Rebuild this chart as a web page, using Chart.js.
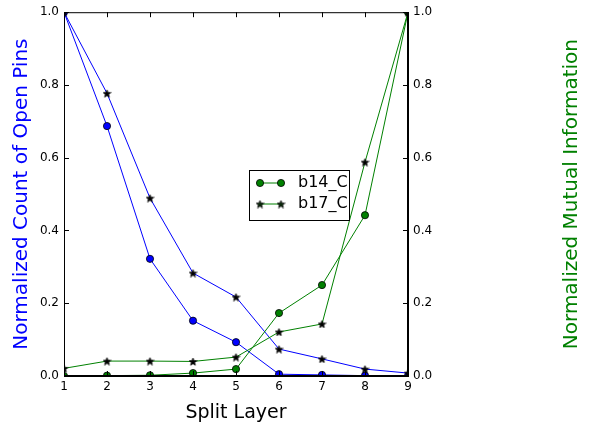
<!DOCTYPE html>
<html>
<head>
<meta charset="utf-8">
<script src="https://cdn.jsdelivr.net/npm/chart.js@4/dist/chart.umd.min.js"></script>
<style>
  html, body { margin: 0; padding: 0; background: #fff; }
  #wrap { width: 596px; height: 424px; }
</style>
</head>
<body>
<div id="wrap"><canvas id="chart" width="596" height="424"></canvas></div>
<script>
var layers = [1, 2, 3, 4, 5, 6, 7, 8, 9];
var pinsB14 = [1.0, 0.687, 0.322, 0.152, 0.093, 0.005, 0.003, 0.001, 0.0];
var pinsB17 = [1.0, 0.777, 0.489, 0.283, 0.217, 0.074, 0.047, 0.019, 0.008];
var miB14 = [0.0, 0.001, 0.002, 0.008, 0.019, 0.173, 0.25, 0.442, 1.0];
var miB17 = [0.021, 0.041, 0.041, 0.040, 0.052, 0.121, 0.143, 0.588, 1.0];
var yTicks = [0, 0.2, 0.4, 0.6, 0.8, 1.0];

var BLUE = '#0000ff';
var GREEN = '#008000';
var FONT = 'DejaVu Sans';

function makeStar (size, fill) {
  var c = document.createElement('canvas');
  c.width = size; c.height = size;
  var g = c.getContext('2d');
  var cx = size / 2, cy = size / 2 + 0.5, R = size / 2 - 0.5, r = R * 0.42;
  g.beginPath();
  for (var i = 0; i < 10; i++) {
    var rad = i % 2 === 0 ? R : r;
    var a = -Math.PI / 2 + i * Math.PI / 5;
    var px = cx + rad * Math.cos(a), py = cy + rad * Math.sin(a);
    if (i === 0) g.moveTo(px, py); else g.lineTo(px, py);
  }
  g.closePath();
  g.fillStyle = fill;
  g.fill();
  g.lineWidth = 0.8;
  g.strokeStyle = '#000';
  g.stroke();
  return c;
}
var starImg = makeStar(9, '#000');
var starGreen = makeStar(9, '#0a2a0a');

function pts (ys) {
  return layers.map(function (x, i) { return { x: x, y: ys[i] }; });
}

function series (label, ys, color, marker, axis, order) {
  return {
    label: label,
    data: pts(ys),
    yAxisID: axis,
    borderColor: color,
    backgroundColor: color,
    borderWidth: 1,
    pointStyle: marker === 'star' ? starImg : 'circle',
    pointRadius: 3.6,
    pointBorderColor: '#000',
    pointBorderWidth: 0.8,
    pointBackgroundColor: color,
    tension: 0,
    clip: 0,
    order: order
  };
}

// matplotlib style frame: inward ticks on all four sides + top border
var framePlugin = {
  id: 'frame',
  afterDraw: function (chart) {
    var ctx = chart.ctx, a = chart.chartArea;
    var sx = chart.scales.x, sy = chart.scales.y, sy2 = chart.scales.y2;
    ctx.save();
    ctx.strokeStyle = '#000';
    ctx.lineWidth = 1;
    ctx.strokeRect(a.left + 0.5, a.top + 0.5, a.right - a.left - 1, a.bottom - a.top - 1);
    ctx.beginPath();
    layers.forEach(function (v) {
      var px = Math.round(sx.getPixelForValue(v)) + 0.5;
      ctx.moveTo(px, a.bottom); ctx.lineTo(px, a.bottom - 5);
      ctx.moveTo(px, a.top); ctx.lineTo(px, a.top + 5);
    });
    yTicks.forEach(function (v) {
      var py = Math.round(sy.getPixelForValue(v)) + 0.5;
      ctx.moveTo(a.left, py); ctx.lineTo(a.left + 5, py);
      var py2 = Math.round(sy2.getPixelForValue(v)) + 0.5;
      ctx.moveTo(a.right, py2); ctx.lineTo(a.right - 5, py2);
    });
    ctx.stroke();

    // right axis title, reading bottom to top like matplotlib
    ctx.save();
    ctx.translate(572, (a.top + a.bottom) / 2);
    ctx.rotate(-Math.PI / 2);
    ctx.fillStyle = GREEN;
    ctx.font = '20px ' + FONT;
    ctx.textAlign = 'center';
    ctx.textBaseline = 'middle';
    ctx.fillText('Normalized Mutual Information', 0, 0);
    ctx.restore();

    // legend box for the mutual information lines
    var lx = 249, ly = 170, lw = 100, lh = 50;
    ctx.fillStyle = '#fff';
    ctx.fillRect(lx, ly, lw, lh);
    ctx.strokeRect(lx + 0.5, ly + 0.5, lw, lh);
    var rows = [{ text: 'b14_C', y: ly + 13, star: false }, { text: 'b17_C', y: ly + 34, star: true }];
    rows.forEach(function (r) {
      ctx.strokeStyle = GREEN;
      ctx.beginPath();
      ctx.moveTo(260, r.y); ctx.lineTo(281, r.y);
      ctx.stroke();
      [260, 281].forEach(function (mx) {
        if (r.star) {
          ctx.drawImage(starGreen, mx - 4.5, r.y - 4.5);
        } else {
          ctx.beginPath();
          ctx.arc(mx, r.y, 3.6, 0, Math.PI * 2);
          ctx.fillStyle = GREEN;
          ctx.fill();
          ctx.strokeStyle = '#000';
          ctx.lineWidth = 0.8;
          ctx.stroke();
          ctx.lineWidth = 1;
        }
      });
      ctx.fillStyle = '#000';
      ctx.font = '16px ' + FONT;
      ctx.textBaseline = 'middle';
      ctx.fillText(r.text, 298, r.y);
    });
    ctx.restore();
  }
};

var tickFont = { family: FONT, size: 12 };
var titleFont = { family: FONT, size: 20 };

new Chart(document.getElementById('chart').getContext('2d'), {
  type: 'line',
  data: {
    datasets: [
      series('b14_C pins', pinsB14, BLUE, 'circle', 'y', 3),
      series('b17_C pins', pinsB17, BLUE, 'star', 'y', 2),
      series('b14_C', miB14, GREEN, 'circle', 'y2', 1),
      series('b17_C', miB17, GREEN, 'star', 'y2', 0)
    ]
  },
  options: {
    responsive: false,
    animation: false,
    layout: { padding: { top: 12, left: 0, right: 0, bottom: 0 } },
    plugins: { legend: { display: false }, tooltip: { enabled: false } },
    scales: {
      x: {
        type: 'linear', position: 'bottom', min: 1, max: 9,
        grid: { display: false, drawTicks: false },
        border: { display: true, color: '#000' },
        ticks: { stepSize: 1, color: '#000', font: tickFont, padding: 4 },
        title: { display: true, text: 'Split Layer', color: '#000', font: { family: FONT, size: 19 }, padding: { top: 0, bottom: 0 } },
        afterFit: function (s) { s.height = 48; }
      },
      y: {
        position: 'left', min: 0, max: 1,
        grid: { display: false, drawTicks: false },
        border: { display: true, color: '#000' },
        ticks: { stepSize: 0.2, color: '#000', font: tickFont, padding: 5,
          callback: function (v) { return v.toFixed(1); } },
        title: { display: true, text: 'Normalized Count of Open Pins', color: BLUE, font: titleFont, padding: { top: 10, bottom: 4 } },
        afterFit: function (s) { s.width = 64; }
      },
      y2: {
        position: 'right', min: 0, max: 1,
        grid: { display: false, drawTicks: false },
        border: { display: true, color: '#000' },
        ticks: { stepSize: 0.2, color: '#000', font: tickFont, padding: 5,
          callback: function (v) { return v.toFixed(1); } },
        title: { display: false },
        afterFit: function (s) { s.width = 188; }
      }
    }
  },
  plugins: [framePlugin]
});
</script>
</body>
</html>
